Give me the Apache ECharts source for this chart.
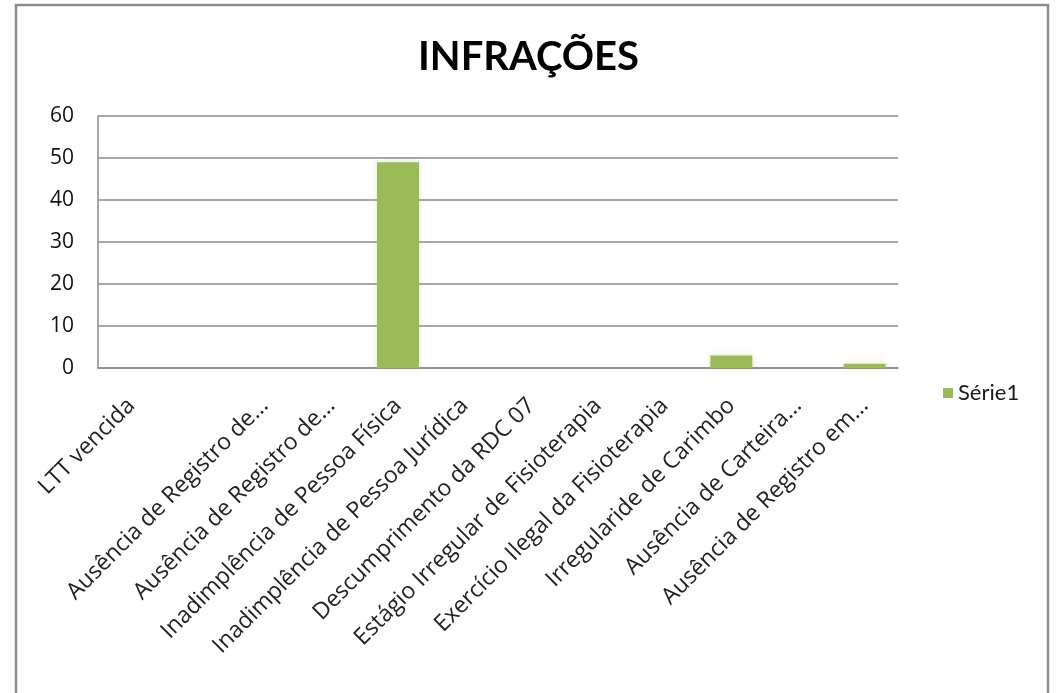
<!DOCTYPE html>
<html>
<head>
<meta charset="utf-8">
<style>
  html, body { margin: 0; padding: 0; background: #fff; }
  #chart { width: 1057px; height: 693px; }
</style>
<script src="https://cdn.jsdelivr.net/npm/echarts@6/dist/echarts.min.js"></script>
</head>
<body>
<div id="chart"></div>
<script>
// Infrações registradas por tipo
const titleText = 'INFRAÇÕES';
const seriesName = 'Série1';
const categories = [
  'LTT vencida',
  '',
  'Ausência de Registro de...',
  'Ausência de Registro de...',
  'Inadimplência de Pessoa Física',
  'Inadimplência de Pessoa Jurídica',
  'Descumprimento da RDC 07',
  'Estágio Irregular de Fisioterapia',
  'Exercício Ilegal da Fisioterapia',
  'Irregularide de Carimbo',
  'Ausência de Carteira...',
  'Ausência de Registro em...'
];
const values = [0, 0, 0, 0, 49, 0, 0, 0, 0, 3, 0, 1];
const yMin = 0, yMax = 60, yStep = 10;

const FONT = '"Open Sans", Lato, sans-serif';
const TITLE_FONT = 'Lato, "Open Sans", sans-serif';
const GREEN = '#9BBB59';
const GRID_GREY = '#8a8a8a';

const chart = echarts.init(document.getElementById('chart'), null, { renderer: 'canvas' });

chart.setOption({
  animation: false,
  backgroundColor: '#ffffff',
  title: {
    text: titleText,
    left: 'center',
    top: 32,
    textStyle: { fontFamily: TITLE_FONT, fontSize: 40, fontWeight: 'bold', color: '#000' }
  },
  graphic: [{
    type: 'rect',
    shape: { x: 16, y: 5, width: 1032, height: 720 },
    style: { fill: 'none', stroke: '#8c8c8c', lineWidth: 2.5 },
    silent: true,
    z: 100
  }],
  legend: {
    data: [seriesName],
    orient: 'vertical',
    left: 938,
    top: 377,
    icon: 'rect',
    itemWidth: 10,
    itemHeight: 10,
    textStyle: { fontFamily: TITLE_FONT, fontSize: 22, color: '#1a1a1a' }
  },
  grid: { left: 98, right: 159, top: 116, bottom: 325, containLabel: false },
  xAxis: {
    type: 'category',
    data: categories,
    boundaryGap: true,
    axisLine: { show: true, lineStyle: { color: GRID_GREY, width: 1.5 } },
    axisTick: { show: false },
    axisLabel: {
      interval: 0,
      rotate: 45,
      margin: 34,
      fontFamily: FONT,
      fontSize: 23,
      color: '#222'
    }
  },
  yAxis: {
    type: 'value',
    min: yMin,
    max: yMax,
    interval: yStep,
    axisLine: { show: true, lineStyle: { color: GRID_GREY, width: 1.5 } },
    axisTick: { show: false },
    splitLine: { show: true, lineStyle: { color: GRID_GREY, width: 1.5 } },
    axisLabel: { margin: 24, fontFamily: FONT, fontSize: 21, color: '#111' }
  },
  series: [{
    name: seriesName,
    type: 'bar',
    data: values,
    barCategoryGap: '37%',
    itemStyle: {
      color: GREEN,
      shadowBlur: 6,
      shadowColor: 'rgba(155,187,89,0.35)'
    }
  }]
});
</script>
</body>
</html>
